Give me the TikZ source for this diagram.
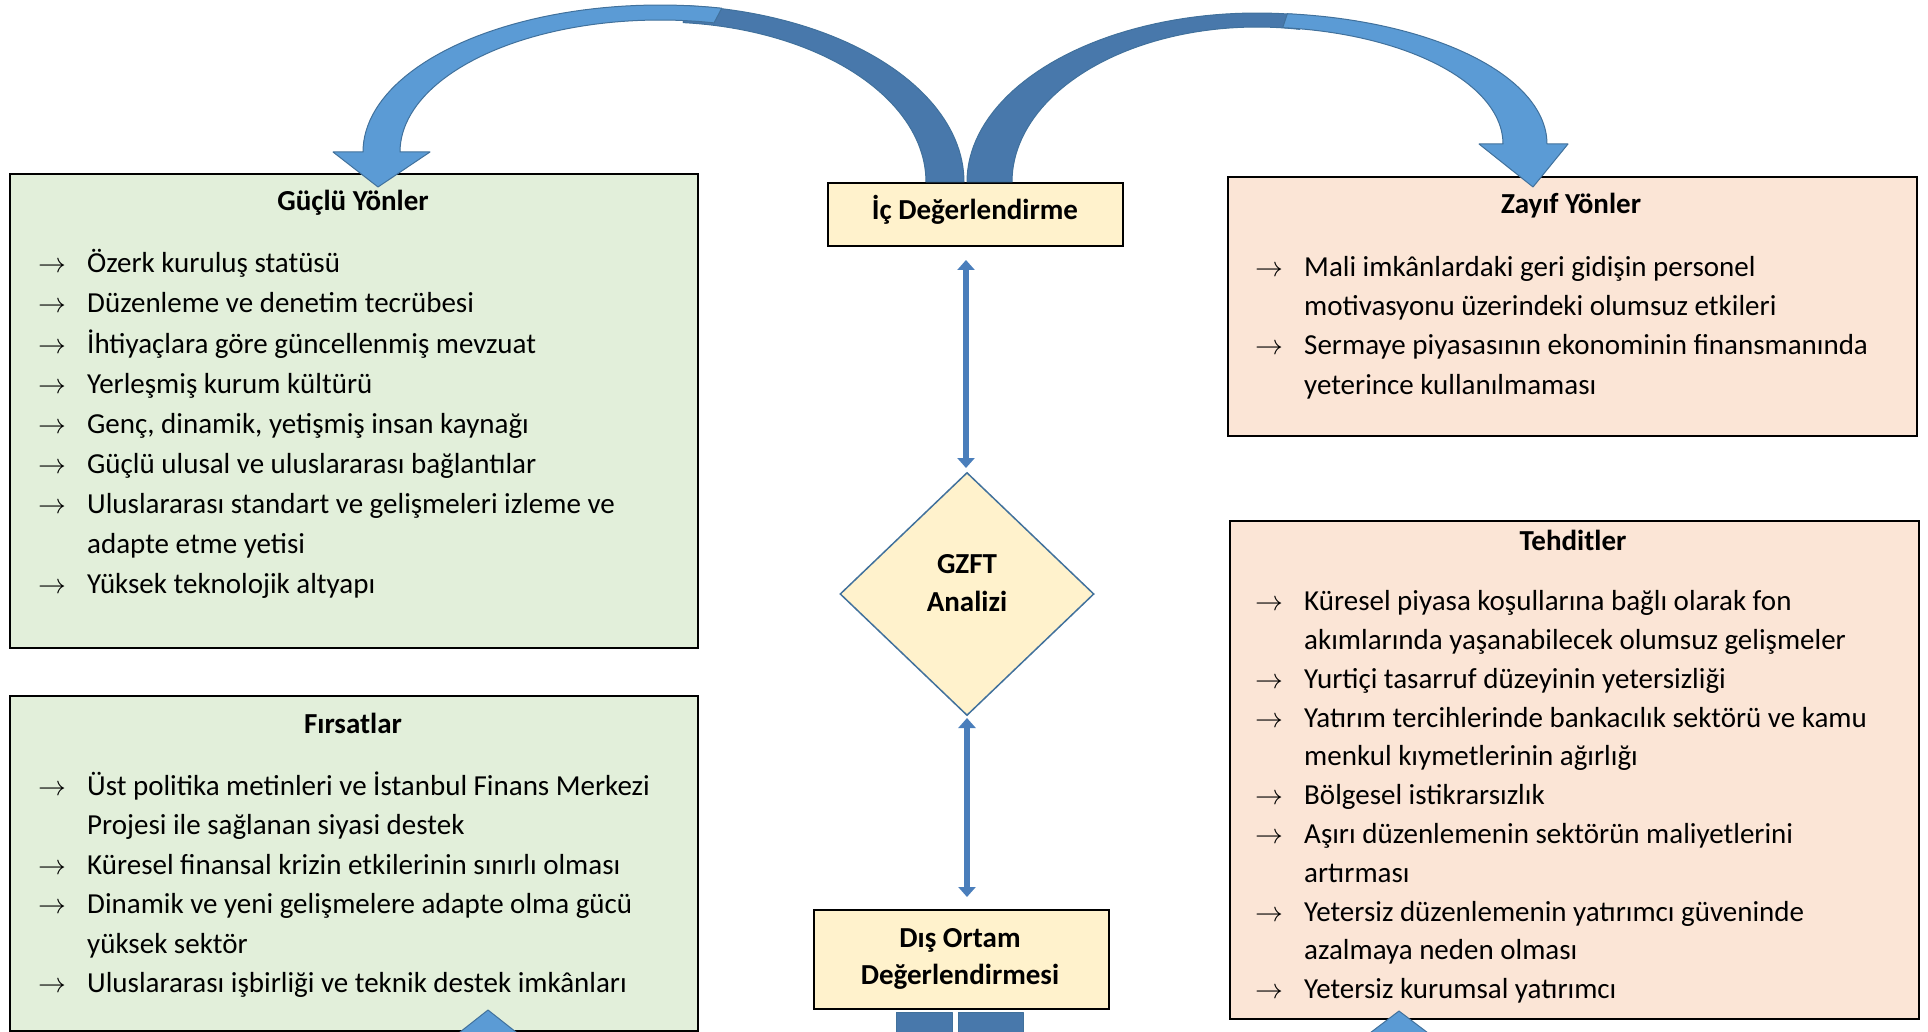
\documentclass[tikz,border=0pt]{standalone}
\usepackage{fontspec}
\usepackage{graphicx}
\setmainfont{Carlito}
\usetikzlibrary{shapes.geometric,arrows.meta}
\definecolor{boxgreen}{HTML}{E2EFDA}
\definecolor{boxpink}{HTML}{FBE5D6}
\definecolor{boxyellow}{HTML}{FFF2CC}
\definecolor{arrlight}{HTML}{5B9BD5}
\definecolor{arrdark}{HTML}{4878AB}
\definecolor{arredge}{HTML}{41719C}
\definecolor{dblblue}{HTML}{4A7EBB}
\newcommand{\bodyfont}{\fontsize{29}{36}\selectfont}
\newcommand{\boldfont}{\fontsize{29}{36}\selectfont\bfseries}
\newcommand{\arrowfont}{\fontsize{24.88}{30}\selectfont}
\newcommand{\swotitem}[5]{\node[arr] (#1a) at (#2,#4) {\scalebox{1.12}{$\rightarrow$}};\node[txt] (#1) at (#3,#4) {#5};}
\newcommand{\swotcont}[4]{\node[txt] (#1) at (#2,#3) {#4};}
\begin{document}
\begin{tikzpicture}[x=1pt,y=-1pt,
  txt/.style={anchor=base west, inner sep=0pt, font=\bodyfont},
  arr/.style={anchor=base west, inner sep=0pt, font=\arrowfont},
  ttl/.style={anchor=base, inner sep=0pt, font=\boldfont},
  panel/.style={draw=black, line width=2pt, anchor=north west, inner sep=0pt},
  band/.style={draw=arredge, line width=1pt, line join=round},
  dbl/.style={draw=dblblue, line width=6pt, {Triangle[width=17pt,length=10pt]}-{Triangle[width=17pt,length=10pt]}}]
\useasboundingbox (0,0) rectangle (1928,1032);

% panels
\node[panel, fill=boxgreen, minimum width=688, minimum height=474] (guclu) at (9,173) {};
\node[panel, fill=boxgreen, minimum width=688, minimum height=335] (firsat) at (9,695) {};
\node[panel, fill=boxpink, minimum width=689, minimum height=259] (zayif) at (1227,176) {};
\node[panel, fill=boxpink, minimum width=689, minimum height=498] (tehdit) at (1229,520) {};
\node[panel, fill=boxyellow, minimum width=295, minimum height=63] (ic) at (827,182) {};
\node[panel, fill=boxyellow, minimum width=295, minimum height=99] (dis) at (813,909) {};
\node[diamond, draw=arredge, line width=1.5pt, fill=boxyellow, minimum width=254, minimum height=243, inner sep=0pt] (gzft) at (967,594) {};

% curved arrows (left)
\filldraw[band, fill=arrdark] plot[domain=0:85, samples=50] ({660+304*cos(\x)},{182-177*sin(\x)}) -- plot[domain=85:0, samples=50] ({660+266*cos(\x)},{182-160*sin(\x)}) -- cycle;
\filldraw[band, fill=arrlight] plot[domain=78:180, samples=50] ({660+297*cos(\x)},{152-147*sin(\x)}) -- (333,152) -- (378,187) -- (430,152) -- plot[domain=180:78, samples=50] ({660+260*cos(\x)},{152-132*sin(\x)}) -- cycle;
% curved arrows (right)
\filldraw[band, fill=arrdark] plot[domain=180:80, samples=50] ({1257+290*cos(\x)},{182-169*sin(\x)}) -- plot[domain=80:180, samples=50] ({1257+245*cos(\x)},{182-155*sin(\x)}) -- cycle;
\filldraw[band, fill=arrlight] plot[domain=84:0, samples=50] ({1257+290*cos(\x)},{144-131*sin(\x)}) -- (1568,144) -- (1533,187) -- (1479,144) -- plot[domain=0:84, samples=50] ({1257+246*cos(\x)},{144-117*sin(\x)}) -- cycle;

% bottom arrow parts
\filldraw[band, fill=arrdark] (896,1012) rectangle (952,1036);
\filldraw[band, fill=arrdark] (958,1012) rectangle (1023,1036);
\filldraw[band, fill=arrlight] (488,1010) -- (521,1036) -- (455,1036) -- cycle;
\filldraw[band, fill=arrlight] (1399,1011) -- (1432,1036) -- (1366,1036) -- cycle;

% double arrows
\coordinate (u1) at (966,260);
\coordinate (u2) at (966,468);
\coordinate (l1) at (967,718);
\coordinate (l2) at (967,897);
\draw[dbl] (u1) -- (u2);
\draw[dbl] (l1) -- (l2);

% titles
\node[ttl] (t1) at (353,211) {Güçlü Yönler};
\node[ttl] (t2) at (353,733) {Fırsatlar};
\node[ttl] (t3) at (1571,214) {Zayıf Yönler};
\node[ttl] (t4) at (1573,550) {Tehditler};
\node[ttl] (t5) at (975,220) {İç Değerlendirme};
\node[ttl] (t6) at (967,573) {GZFT};
\node[ttl] (t7) at (967,611) {Analizi};
\node[ttl] (t8) at (960,947) {Dış Ortam};
\node[ttl] (t9) at (960,984) {Değerlendirmesi};

% Güçlü Yönler
\swotitem{g1}{38}{87}{273}{Özerk kuruluş statüsü}
\swotitem{g2}{38}{87}{313}{Düzenleme ve denetim tecrübesi}
\swotitem{g3}{38}{87}{353}{İhtiyaçlara göre güncellenmiş mevzuat}
\swotitem{g4}{38}{87}{393}{Yerleşmiş kurum kültürü}
\swotitem{g5}{38}{87}{433}{Genç, dinamik, yetişmiş insan kaynağı}
\swotitem{g6}{38}{87}{473}{Güçlü ulusal ve uluslararası bağlantılar}
\swotitem{g7}{38}{87}{513}{Uluslararası standart ve gelişmeleri izleme ve}
\swotcont{g8}{87}{553}{adapte etme yetisi}
\swotitem{g9}{38}{87}{593}{Yüksek teknolojik altyapı}

% Fırsatlar
\swotitem{f1}{38}{87}{795}{Üst politika metinleri ve İstanbul Finans Merkezi}
\swotcont{f2}{87}{834.5}{Projesi ile sağlanan siyasi destek}
\swotitem{f3}{38}{87}{874}{Küresel finansal krizin etkilerinin sınırlı olması}
\swotitem{f4}{38}{87}{913.5}{Dinamik ve yeni gelişmelere adapte olma gücü}
\swotcont{f5}{87}{953}{yüksek sektör}
\swotitem{f6}{38}{87}{992.5}{Uluslararası işbirliği ve teknik destek imkânları}

% Zayıf Yönler
\swotitem{z1}{1255}{1304}{277}{Mali imkânlardaki geri gidişin personel}
\swotcont{z2}{1304}{316}{motivasyonu üzerindeki olumsuz etkileri}
\swotitem{z3}{1255}{1304}{355}{Sermaye piyasasının ekonominin finansmanında}
\swotcont{z4}{1304}{394}{yeterince kullanılmaması}

% Tehditler
\swotitem{h1}{1255}{1304}{610}{Küresel piyasa koşullarına bağlı olarak fon}
\swotcont{h2}{1304}{649}{akımlarında yaşanabilecek olumsuz gelişmeler}
\swotitem{h3}{1255}{1304}{688}{Yurtiçi tasarruf düzeyinin yetersizliği}
\swotitem{h4}{1255}{1304}{727}{Yatırım tercihlerinde bankacılık sektörü ve kamu}
\swotcont{h5}{1304}{765}{menkul kıymetlerinin ağırlığı}
\swotitem{h6}{1255}{1304}{804}{Bölgesel istikrarsızlık}
\swotitem{h7}{1255}{1304}{843}{Aşırı düzenlemenin sektörün maliyetlerini}
\swotcont{h8}{1304}{882}{artırması}
\swotitem{h9}{1255}{1304}{921}{Yetersiz düzenlemenin yatırımcı güveninde}
\swotcont{h10}{1304}{959}{azalmaya neden olması}
\swotitem{h11}{1255}{1304}{998}{Yetersiz kurumsal yatırımcı}
\end{tikzpicture}
\end{document}
